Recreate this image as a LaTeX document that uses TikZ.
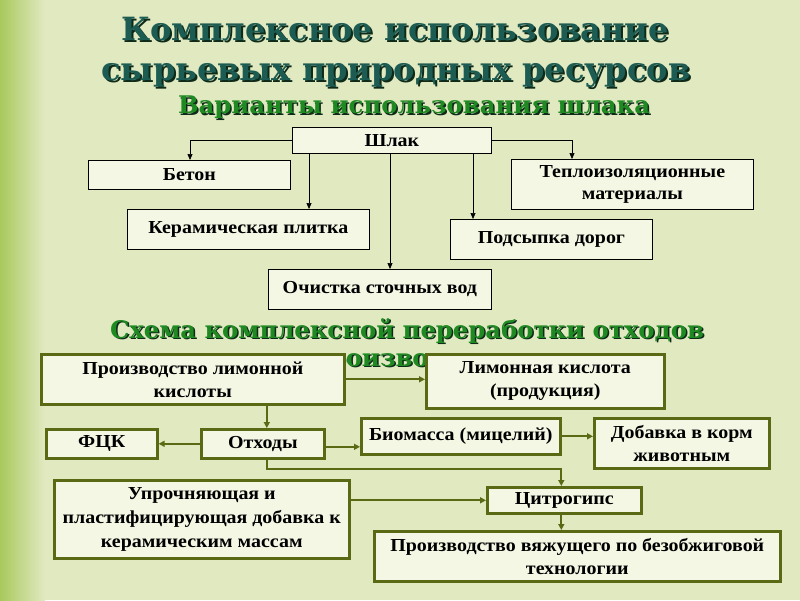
\documentclass[tikz,border=0pt]{standalone}
\usepackage{fontspec}
\setmainfont{Liberation Serif}
\newfontfamily\boxfont[FakeStretch=1.09]{Liberation Serif}
\newfontfamily\titlefont{DejaVu Serif}
\usetikzlibrary{arrows.meta,calc}
\definecolor{bgc}{HTML}{E1E9C1}
\definecolor{bgl}{HTML}{A9C95C}
\definecolor{boxfill}{HTML}{F3F7E3}
\definecolor{olivec}{HTML}{5A6914}
\definecolor{teal}{HTML}{1D5C52}
\definecolor{greent}{HTML}{1F8A22}
\definecolor{shad}{HTML}{0E2A18}
\newcommand\shadtxt[3]{\makebox[0pt][l]{\hspace{#3}\raisebox{-#3}{\textcolor{shad}{#2}}}\textcolor{#1}{#2}}
\tikzset{
  tbox/.style={draw=black, line width=0.8pt, fill=boxfill, anchor=north west, inner sep=0pt,
    font=\boxfont\bfseries\fontsize{18.3}{22}\selectfont, align=center},
  obox/.style={draw=olivec, line width=2.6pt, fill=boxfill, anchor=north west, inner sep=0pt,
    font=\boxfont\bfseries\fontsize{18.3}{23}\selectfont, align=center},
  tarr/.style={draw=black, line width=0.7pt, -{Triangle[length=6pt,width=5pt]}},
  oarr/.style={draw=olivec, line width=2pt, -{Triangle[length=6pt,width=6pt]}},
  ttl/.style={anchor=base, inner sep=0pt, font=\titlefont\bfseries\fontsize{32}{32}\selectfont},
  sub/.style={anchor=base, inner sep=0pt, font=\titlefont\bfseries\fontsize{24.3}{24}\selectfont},
}
\begin{document}
\begin{tikzpicture}[x=1pt,y=-1pt]
\useasboundingbox (0,0) rectangle (800,600);
% background
\fill[bgc] (0,0) rectangle (800,600);
\shade[left color=bgl, right color=bgc] (0,0) rectangle (45,600);
% titles
\node[ttl] (t1) at (395,40) {\shadtxt{teal}{Комплексное использование}{2pt}};
\node[ttl] (t2) at (396,80) {\shadtxt{teal}{сырьевых природных ресурсов}{2pt}};
\node[sub] (t3) at (414,113.5) {\shadtxt{greent}{Варианты использования шлака}{1.5pt}};
\node[sub] (t4) at (407,338) {\shadtxt{greent}{Схема комплексной переработки отходов}{1.5pt}};
\begin{scope}
\clip (344,345) rectangle (424,378);
\node[sub] (t5) at (384,366) {\makebox[80pt][l]{\hspace{-33pt}\shadtxt{greent}{производства}{1.5pt}}};
\end{scope}
% top boxes
\node[tbox, minimum width=199pt, minimum height=26pt] (shlak) at (292,127) {Шлак};
\node[tbox, minimum width=202pt, minimum height=29pt] (beton) at (88,160) {Бетон};
\node[tbox, minimum width=242pt, minimum height=50pt] (teplo) at (511,159) {Теплоизоляционные\\материалы};
\node[tbox, minimum width=242pt, minimum height=40pt] (ker) at (127,209) {Керамическая плитка};
\node[tbox, minimum width=202pt, minimum height=40pt] (pod) at (450,219) {Подсыпка дорог};
\node[tbox, minimum width=223pt, minimum height=40pt] (och) at (268,269) {Очистка сточных вод};
% top arrows
\draw[tarr] (shlak.west) -| ([xshift=102pt]beton.north west);
\draw[tarr] ([xshift=17pt]shlak.south west) -- ([xshift=17pt]shlak.south west |- ker.north);
\draw[tarr] ([xshift=98pt]shlak.south west) -- ([xshift=98pt]shlak.south west |- och.north);
\draw[tarr] ([xshift=181pt]shlak.south west) -- ([xshift=181pt]shlak.south west |- pod.north);
\draw[tarr] (shlak.east) -| ([xshift=61pt]teplo.north west);
% bottom boxes
\node[obox, minimum width=303pt, minimum height=50pt] (pl) at (40,353) {Производство лимонной\\кислоты};
\node[obox, minimum width=238pt, minimum height=54pt] (lk) at (425,353) {Лимонная кислота\\(продукция)};
\node[obox, minimum width=111pt, minimum height=29pt] (fck) at (45,428) {ФЦК};
\node[obox, minimum width=123pt, minimum height=29pt] (otx) at (200,428) {Отходы};
\node[obox, minimum width=199pt, minimum height=36pt] (bio) at (360,417) {Биомасса (мицелий)};
\node[obox, minimum width=175pt, minimum height=50pt] (dob) at (593,417) {Добавка в корм\\животным};
\node[obox, minimum width=295pt, minimum height=78pt, font=\boxfont\bfseries\fontsize{18.3}{24}\selectfont] (upr) at (53,479) {Упрочняющая и\\пластифицирующая добавка к\\керамическим массам};
\node[obox, minimum width=154pt, minimum height=26pt] (cit) at (486,486) {Цитрогипс};
\node[obox, minimum width=406pt, minimum height=50pt] (vyaz) at (373,530) {Производство вяжущего по безобжиговой\\технологии};
% bottom arrows
\draw[oarr] (pl.east) -- (pl.east -| lk.west);
\draw[oarr] ([xshift=4pt]otx.north |- pl.south) -- ([xshift=4pt]otx.north);
\draw[oarr] (otx.west) -- (otx.west -| fck.east);
\draw[oarr] ([yshift=-3pt]otx.east) -- ([yshift=-3pt]otx.east -| bio.west);
\draw[oarr] (bio.east) -- (bio.east -| dob.west);
\draw[oarr] ([xshift=4pt]otx.south) -- ++(0,9) -| ([xshift=-3pt]cit.north);
\draw[oarr] (cit.west -| upr.east) -- (cit.west);
\draw[oarr] ([xshift=-3pt]cit.south) -- ([xshift=-3pt]cit.south |- vyaz.north);
\end{tikzpicture}
\end{document}
